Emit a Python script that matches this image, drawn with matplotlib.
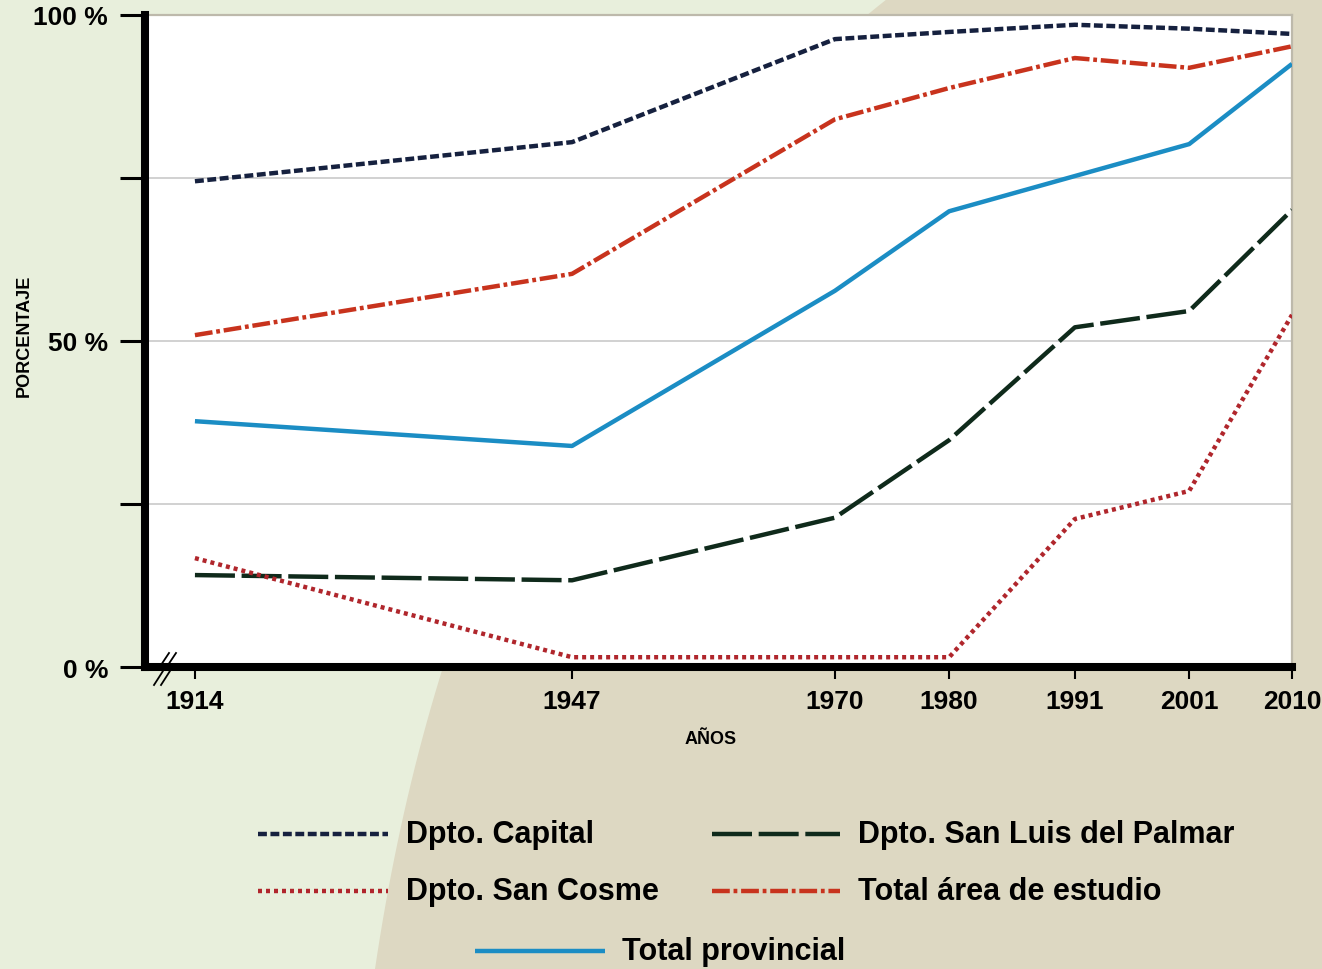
import numpy as np
import matplotlib
matplotlib.use("Agg")
import matplotlib.pyplot as plt
from matplotlib.lines import Line2D
from matplotlib.patches import Polygon

plt.rcParams["font.family"] = ["Liberation Sans", "DejaVu Sans"]
plt.rcParams["font.weight"] = "bold"

W, H = 1322, 970

# data (percent)
years = [1914, 1947, 1970, 1980, 1991, 2001, 2010]
capital = [74.5, 80.5, 96.3, 97.4, 98.5, 97.9, 97.1]
san_cosme = [16.7, 1.5, 1.5, 1.5, 22.7, 27.0, 54.0]
san_luis = [14.1, 13.3, 22.9, 34.8, 52.1, 54.6, 70.1]
total_area = [50.9, 60.3, 84.0, 88.8, 93.4, 91.9, 95.2]
total_prov = [37.7, 33.9, 57.7, 69.9, 75.3, 80.2, 92.5]

y_ticks = [0, 25, 50, 75, 100]
y_ticklabels = ["0 %", "", "50 %", "", "100 %"]

C_CAPITAL = "#16213f"
C_COSME = "#b0262c"
C_LUIS = "#0f2a1b"
C_AREA = "#c8331d"
C_PROV = "#1b8dc4"

LW = 3.2
series = [
    # label, values, color, dashes
    ("Dpto. San Luis del Palmar", san_luis, C_LUIS, (9, 1.5)),
    ("Dpto. San Cosme", san_cosme, C_COSME, (0.9, 0.9)),
    ("Dpto. Capital", capital, C_CAPITAL, (2.0, 0.8)),
    ("Total área de estudio", total_area, C_AREA, (4.0, 0.85, 0.85, 0.85)),
    ("Total provincial", total_prov, C_PROV, None),
]


def fx(px):
    return px / W


def fy(py):
    return 1 - py / H


fig = plt.figure(figsize=(W / 100, H / 100), dpi=100)
fig.patch.set_facecolor("#e8efdc")

# beige curved background shape
t = np.linspace(0, 1, 80)
p0, p1, p2 = np.array([887, 0]), np.array([470, 330]), np.array([375, 970])
curve = ((1 - t) ** 2)[:, None] * p0 + (2 * t * (1 - t))[:, None] * p1 + (t ** 2)[:, None] * p2
pts = [(fx(x), fy(y)) for x, y in curve] + [(1, 0), (1, 1)]
fig.add_artist(Polygon(pts, closed=True, transform=fig.transFigure,
                       facecolor="#ddd8c2", edgecolor="none", zorder=-5))

ax = fig.add_axes([fx(145), fy(668), fx(1292) - fx(145), (668 - 16) / H])
ax.set_facecolor("white")

for label, vals, col, dash in series:
    if dash is None:
        ax.plot(years, vals, color=col, lw=LW, solid_capstyle="butt", zorder=3)
    else:
        ax.plot(years, vals, color=col, lw=LW, dashes=dash, zorder=3)

ax.set_xlim(1909.63, 2010)
ax.set_ylim(0, 100)
ax.set_xticks(years)
ax.set_xticklabels([str(y) for y in years])
ax.set_yticks(y_ticks)
ax.set_yticklabels(y_ticklabels)
for v in [25, 50, 75]:
    ax.axhline(v, color="#c9c9c9", lw=1.2, zorder=1)

for s in ["left", "bottom"]:
    ax.spines[s].set_linewidth(5.8)
    ax.spines[s].set_color("black")
for s in ["top", "right"]:
    ax.spines[s].set_linewidth(1.6)
    ax.spines[s].set_color("#bdb9ab")
ax.spines["left"].set_zorder(5)
ax.spines["bottom"].set_zorder(5)

ax.tick_params(axis="y", length=18, width=2.2, pad=8.5, labelsize=19, color="black")
ax.tick_params(axis="x", length=8.5, width=1.5, pad=7, labelsize=19, color="black")
for lab in ax.get_xticklabels() + ax.get_yticklabels():
    lab.set_fontweight("bold")

fig.text(fx(711), fy(740), "AÑOS", ha="center", va="center", fontsize=13, fontweight="bold")
fig.text(fx(24), fy(336), "PORCENTAJE", ha="center", va="center", rotation=90,
         fontsize=13, fontweight="bold")

# axis break marks (small lightning-style zigzags)
zig = np.array([(0, 0), (9, -14), (5, -17), (15, -32)])
for bx in [154, 161]:
    xs = [fx(bx + dx) for dx, dy in zig]
    ys = [fy(686 + dy) for dx, dy in zig]
    fig.add_artist(Line2D(xs, ys, color="black", lw=1.3, transform=fig.transFigure, zorder=10))

# legend, drawn by hand to match the layout
slots = {
    "Dpto. Capital": (258, 388, 406, 835),
    "Dpto. San Luis del Palmar": (712, 840, 858, 835),
    "Dpto. San Cosme": (258, 388, 406, 892),
    "Total área de estudio": (712, 840, 858, 892),
    "Total provincial": (475, 605, 622, 952),
}
for label, vals, col, dash in series:
    x0, x1, xt, yy = slots[label]
    ln = Line2D([fx(x0), fx(x1)], [fy(yy), fy(yy)], color=col, lw=LW,
                transform=fig.transFigure)
    if dash is not None:
        ln.set_dashes(dash)
    else:
        ln.set_solid_capstyle("butt")
    fig.add_artist(ln)
    fig.text(fx(xt), fy(yy), label, ha="left", va="center", fontsize=22, fontweight="bold")

fig.savefig("out.png", dpi=100, facecolor=fig.get_facecolor())
